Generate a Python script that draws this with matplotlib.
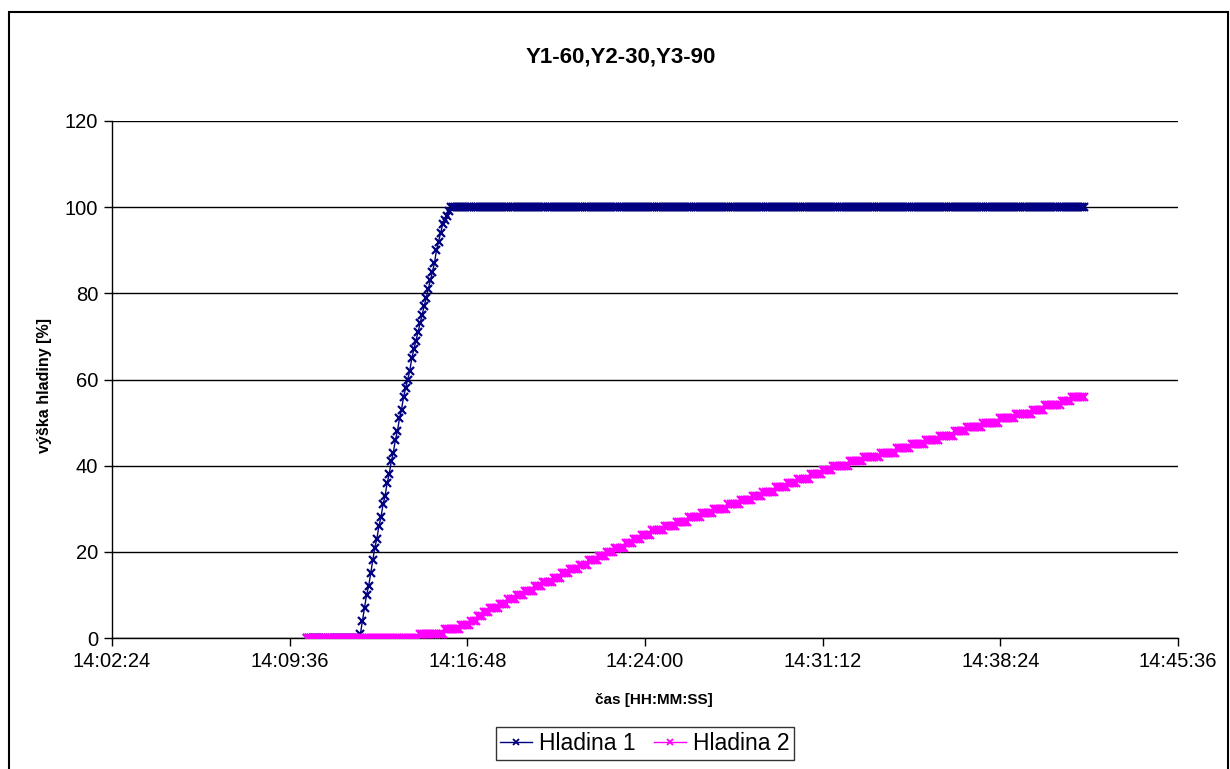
import numpy as np
import matplotlib
matplotlib.use("Agg")
import matplotlib.pyplot as plt
from matplotlib.patches import Rectangle
from matplotlib.ticker import FuncFormatter, MultipleLocator

plt.rcParams["font.family"] = ["Liberation Sans", "DejaVu Sans"]

# --- measurement record -------------------------------------------------
title = "Y1-60,Y2-30,Y3-90"
x_label = "čas [HH:MM:SS]"
y_label = "výška hladiny [%]"
series_names = ["Hladina 1", "Hladina 2"]

record_start = "14:10:18"      # first sample
sample_period_s = 5             # logger period
sample_count = 379

# Hladina 1: idle at 0, filling ramp, then held at 100 %
level1_idle_samples = 26
level1_ramp = [1, 4, 7, 10, 12, 15, 18, 21, 23, 26, 28, 31, 33, 36, 38, 41,
               43, 46, 48, 51, 53, 56, 58, 60, 62, 65, 67, 69, 71, 73, 75, 77,
               79, 81, 83, 85, 87, 90, 92, 94, 96, 97, 98, 99]
level1_full = 100

# Hladina 2: elapsed time [s] at which the level rises by one more percent
level2_step_s = [275, 331, 371, 399, 414, 430, 445, 466, 488, 509, 530, 552,
                 573, 596, 618, 640, 663, 685, 707, 730, 750, 772, 793, 813,
                 839, 868, 898, 926, 956, 988, 1021, 1053, 1081, 1110, 1138,
                 1166, 1194, 1223, 1251, 1279, 1317, 1355, 1393, 1431, 1466,
                 1501, 1536, 1571, 1605, 1645, 1685, 1725, 1765, 1795, 1831,
                 1860]

x_min, x_max, x_step = "14:02:24", "14:45:36", 432
y_min, y_max, y_step = 0, 120, 20


def clock_to_s(txt):
    h, m, s = (int(v) for v in txt.split(":"))
    return h * 3600 + m * 60 + s


def s_to_clock(v, _pos=None):
    v = int(round(v))
    return f"{v // 3600:02d}:{(v % 3600) // 60:02d}:{v % 60:02d}"


elapsed = sample_period_s * np.arange(sample_count)
t = clock_to_s(record_start) + elapsed

level1 = np.array([0] * level1_idle_samples + level1_ramp
                  + [level1_full] * (sample_count - level1_idle_samples - len(level1_ramp)))
level2 = np.searchsorted(np.array(level2_step_s), elapsed, side="right")

# --- figure ---------------------------------------------------------------
fig = plt.figure(figsize=(12.3, 7.69), dpi=100)
fig.patch.set_facecolor("white")
fig.add_artist(Rectangle((9 / 1230, -0.01), 1219 / 1230, 1 - 12 / 769 + 0.01,
                         transform=fig.transFigure, fill=False,
                         edgecolor="black", linewidth=1.5))

ax = fig.add_axes([112 / 1230, 1 - 638 / 769, 1066 / 1230, 517 / 769])

ax.plot(t, level1, color="#000080", linewidth=1.0, marker="x",
        markersize=5.5, markeredgewidth=1.6, label=series_names[0], zorder=3)
ax.plot(t, level2, color="#FF00FF", linewidth=1.0, marker="x",
        markersize=5.5, markeredgewidth=1.6, label=series_names[1], zorder=4)

ax.set_xlim(clock_to_s(x_min), clock_to_s(x_max))
ax.set_ylim(y_min, y_max)
ax.xaxis.set_major_locator(MultipleLocator(x_step))
ax.xaxis.set_major_formatter(FuncFormatter(s_to_clock))
ax.set_xticks(np.arange(clock_to_s(x_min), clock_to_s(x_max) + 1, x_step))
ax.set_yticks(np.arange(y_min, y_max + 1, y_step))

ax.yaxis.grid(True, color="black", linewidth=1.0)
ax.set_axisbelow(True)
for side in ("top", "right"):
    ax.spines[side].set_visible(False)
for side in ("left", "bottom"):
    ax.spines[side].set_color("black")
    ax.spines[side].set_linewidth(1.0)
ax.tick_params(axis="both", direction="out", length=6, width=1,
               labelsize=14.5, colors="black", pad=4)

fig.text(621 / 1230, 1 - 57 / 769, title, ha="center", va="center",
         fontsize=16, fontweight="bold")
fig.text(654 / 1230, 1 - 700 / 769, x_label, ha="center", va="center",
         fontsize=11, fontweight="bold")
fig.text(45 / 1230, 1 - 385 / 769, y_label, ha="center", va="center",
         rotation=90, fontsize=11.5, fontweight="bold")

leg = fig.legend(loc="center", bbox_to_anchor=(645 / 1230, 1 - 743.5 / 769),
                 ncol=2, fontsize=16.5, frameon=True, fancybox=False,
                 edgecolor="black", handlelength=1.4, handletextpad=0.3,
                 columnspacing=0.8, borderpad=0.2, borderaxespad=0)
leg.get_frame().set_linewidth(1.0)
for h in leg.legend_handles:
    h.set_markersize(4)
    h.set_markeredgewidth(1.3)

fig.savefig("out.png", dpi=100, facecolor="white")
